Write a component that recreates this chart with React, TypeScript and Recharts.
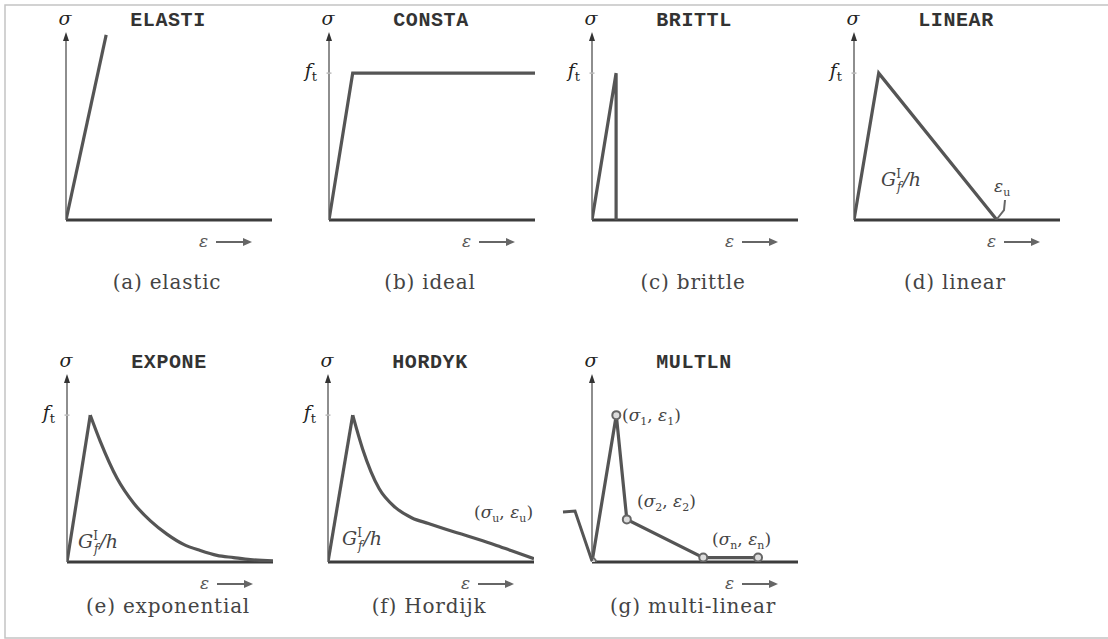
import { LineChart, Line, XAxis, YAxis, ReferenceLine } from 'recharts'

// plot box of every small diagram (pixels) and the data range it shows
const PW = 206
const PH = 188
const M = 14
const X_MAX = 10
const Y_MAX = 1.28

// (a) elastic
const elasticX = [0, 1.95]
const elasticY = [0, 1.26]
// (b) ideal
const idealX = [0, 1.15, 10]
const idealY = [0, 1, 1]
// (c) brittle
const brittleX = [0, 1.17, 1.17]
const brittleY = [0, 1, 0]
// (d) linear
const linearX = [0, 1.2, 6.94]
const linearY = [0, 1, 0]
// (e) exponential: rise + decay
const expRiseX = [0, 1.13]
const expRiseY = [0, 1]
const expDecayX = [1.13, 1.62, 2.43, 3.24, 4.05, 4.85, 5.66, 6.47, 7.28, 8.09, 8.9, 10]
const expDecayY = [1, 0.82, 0.57, 0.4, 0.28, 0.19, 0.12, 0.078, 0.045, 0.03, 0.016, 0.007]
// (f) Hordijk: rise + decay
const horRiseX = [0, 1.2]
const horRiseY = [0, 1]
const horDecayX = [1.2, 1.68, 2.48, 3.28, 4.08, 4.88, 5.68, 6.48, 7.28, 8.08, 8.88, 10]
const horDecayY = [1, 0.77, 0.5, 0.37, 0.3, 0.262, 0.225, 0.19, 0.155, 0.118, 0.078, 0.022]
// (g) multi-linear
const multiX = [0, 1.18, 1.69, 5.4, 8.06]
const multiY = [0, 1, 0.29, 0.03, 0.03]

const titles = ['ELASTI', 'CONSTA', 'BRITTL', 'LINEAR', 'EXPONE', 'HORDYK', 'MULTLN']
const captions = ['(a) elastic', '(b) ideal', '(c) brittle', '(d) linear', '(e) exponential', '(f) Hordijk', '(g) multi-linear']
const hasFt = [false, true, true, true, true, true, false]

const origins = [
  { ox: 66, oy: 220 }, { ox: 329, oy: 220 }, { ox: 592, oy: 220 }, { ox: 854, oy: 220 },
  { ox: 67, oy: 562 }, { ox: 328, oy: 562 }, { ox: 592, oy: 562 },
]

const pts = (xs: number[], ys: number[]) => xs.map((x, i) => ({ x, y: ys[i] }))

const CURVE = '#555'
const SERIF = '"DejaVu Serif", serif'

const YArrow = (p: any) => {
  const { x1, y1, x2, y2 } = p
  return (
    <g>
      <line x1={x1} y1={y1} x2={x2} y2={y2 + 5} stroke="#8e8e8e" strokeWidth={2} />
      <path d={`M${x2},${y2} L${x2 - 3},${y2 + 9} L${x2 + 3},${y2 + 9} Z`} fill="#333" />
    </g>
  )
}

function Panel({ idx, children }: any) {
  const { ox, oy } = origins[idx]
  return (
    <div style={{ position: 'absolute', left: ox - M, top: oy - PH - M }}>
      <LineChart width={PW + 2 * M} height={PH + 2 * M} margin={{ top: M, right: M, bottom: M, left: M }}>
        <XAxis type="number" dataKey="x" domain={[0, X_MAX]} hide allowDataOverflow />
        <YAxis type="number" domain={[0, Y_MAX]} hide allowDataOverflow />
        <ReferenceLine segment={[{ x: 0, y: 0 }, { x: 0, y: Y_MAX }]} shape={YArrow} ifOverflow="visible" />
        {hasFt[idx] && (
          <ReferenceLine segment={[{ x: -0.12, y: 1 }, { x: 0.12, y: 1 }]} stroke="#bbb" strokeWidth={1.5} ifOverflow="visible" />
        )}
        <ReferenceLine segment={[{ x: 0, y: 0 }, { x: X_MAX, y: 0 }]} stroke="#3c3c3c" strokeWidth={3} ifOverflow="visible" />
        {children}
      </LineChart>
    </div>
  )
}

const curve = (xs: number[], ys: number[], type: any = 'linear', dot: any = false) => (
  <Line
    data={pts(xs, ys)}
    dataKey="y"
    type={type}
    stroke={CURVE}
    strokeWidth={3.2}
    dot={dot}
    activeDot={false}
    isAnimationActive={false}
  />
)

const GfText = ({ x, y }: { x: number; y: number }) => (
  <text x={x} y={y} fontFamily={SERIF} fontStyle="italic" fontSize={19} fill="#444">
    G<tspan dy={-8} fontSize={12} fontStyle="normal">I</tspan>
    <tspan dx={-4} dy={13} fontSize={12}>f</tspan>
    <tspan dx={1} dy={-5}>/h</tspan>
  </text>
)

const Pair = ({ x, y, s }: { x: number; y: number; s: string }) => (
  <text x={x} y={y} fontFamily={SERIF} fontSize={17} fill="#444">
    (<tspan fontStyle="italic">σ</tspan>
    <tspan dy={4} fontSize={11}>{s}</tspan>
    <tspan dy={-4}>, </tspan>
    <tspan fontStyle="italic">ε</tspan>
    <tspan dy={4} fontSize={11}>{s}</tspan>
    <tspan dy={-4}>)</tspan>
  </text>
)

function Overlay() {
  return (
    <svg width={1108} height={639} style={{ position: 'absolute', left: 0, top: 0, pointerEvents: 'none' }}>
      <path d="M1108,5 L5,5 L5,638 L1108,638" fill="none" stroke="#c4c4c4" strokeWidth={1.5} />
      {origins.map(({ ox, oy }, i) => (
        <g key={i}>
          <text x={ox - 1} y={oy - 195} textAnchor="middle" fontFamily={SERIF} fontStyle="italic" fontSize={19} fill="#222">σ</text>
          <text x={ox + 102} y={oy - 194} textAnchor="middle" fontFamily='"Liberation Mono", monospace' fontWeight={600} fontSize={20} letterSpacing={0.6} fill="#333">{titles[i]}</text>
          <text x={ox + 101} y={i < 4 ? 289 : 613} textAnchor="middle" fontFamily={SERIF} fontSize={20} letterSpacing={0.8} fill="#444">{captions[i]}</text>
          <text x={ox + 133} y={oy + 27} fontFamily={SERIF} fontStyle="italic" fontSize={17} fill="#555">ε</text>
          <line x1={ox + 150} y1={oy + 22} x2={ox + 180} y2={oy + 22} stroke="#666" strokeWidth={2} />
          <path d={`M${ox + 186},${oy + 22} L${ox + 177},${oy + 18} L${ox + 177},${oy + 26} Z`} fill="#666" />
          {hasFt[i] && (
            <text x={ox - 12} y={oy - 143} textAnchor="end" fontFamily={SERIF} fontStyle="italic" fontSize={19} fill="#222">
              f<tspan dy={4} fontSize={13} fontStyle="normal">t</tspan>
            </text>
          )}
        </g>
      ))}
      <GfText x={881} y={186} />
      <text x={994} y={192} fontFamily={SERIF} fontStyle="italic" fontSize={17} fill="#444">
        ε<tspan dy={4} fontSize={11} fontStyle="normal">u</tspan>
      </text>
      <path d="M1005,200 L1004,210 L997,219" fill="none" stroke="#666" strokeWidth={2} />
      <GfText x={78} y={548} />
      <GfText x={342} y={545} />
      <Pair x={474} y={518} s="u" />
      <path d="M563,512 L575,511 L592,561" fill="none" stroke={CURVE} strokeWidth={3} />
      <Pair x={622} y={421} s="1" />
      <Pair x={637} y={507} s="2" />
      <Pair x={712} y={545} s="n" />
    </svg>
  )
}

export default function App() {
  const dot = { r: 4, stroke: '#666', strokeWidth: 2, fill: '#ddd' }
  return (
    <div style={{ position: 'absolute', left: 0, top: 0, width: 1108, height: 639, background: '#fff' }}>
      <Panel idx={0}>{curve(elasticX, elasticY)}</Panel>
      <Panel idx={1}>{curve(idealX, idealY)}</Panel>
      <Panel idx={2}>{curve(brittleX, brittleY)}</Panel>
      <Panel idx={3}>{curve(linearX, linearY)}</Panel>
      <Panel idx={4}>
        {curve(expRiseX, expRiseY)}
        {curve(expDecayX, expDecayY, 'monotone')}
      </Panel>
      <Panel idx={5}>
        {curve(horRiseX, horRiseY)}
        {curve(horDecayX, horDecayY, 'monotone')}
      </Panel>
      <Panel idx={6}>{curve(multiX, multiY, 'linear', dot)}</Panel>
      <Overlay />
    </div>
  )
}
